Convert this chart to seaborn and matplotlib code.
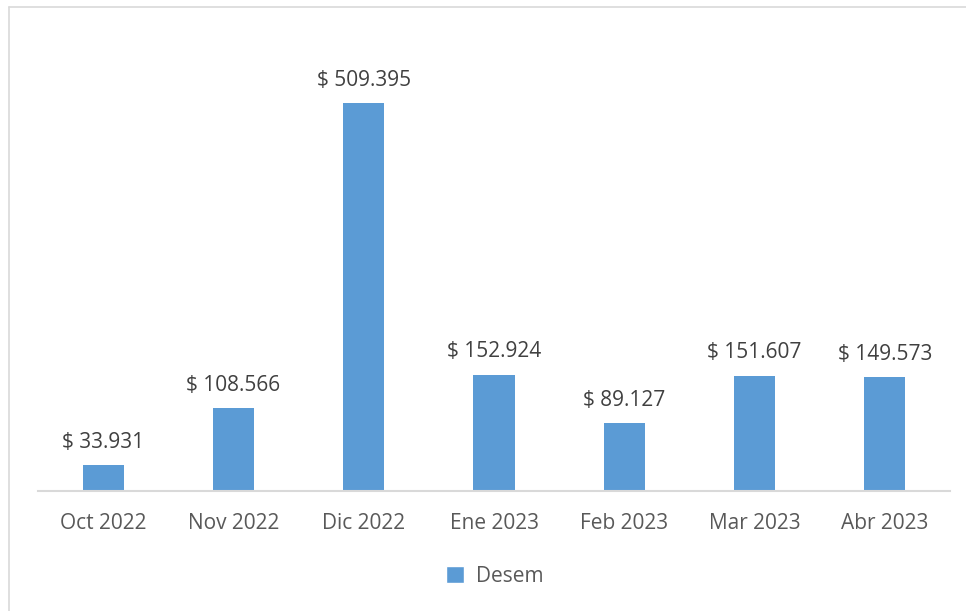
import matplotlib
matplotlib.use("Agg")
import matplotlib.pyplot as plt
import seaborn as sns
import pandas as pd
from matplotlib.patches import Rectangle
from matplotlib.lines import Line2D

months = ["Oct 2022", "Nov 2022", "Dic 2022", "Ene 2023", "Feb 2023", "Mar 2023", "Abr 2023"]
values = [33931, 108566, 509395, 152924, 89127, 151607, 149573]
labels = ["$ 33.931", "$ 108.566", "$ 509.395", "$ 152.924", "$ 89.127", "$ 151.607", "$ 149.573"]
series_name = "Desem"

sns.set_theme(style="white")
plt.rcParams["font.family"] = ["Open Sans", "DejaVu Sans"]

df = pd.DataFrame({"Mes": months, "Valor": values, "Serie": series_name})
color = "#5B9BD5"

fig = plt.figure(figsize=(9.66, 6.11), dpi=100)
ax = fig.add_axes([38/966, 120/611, 912/966, 457/611])
sns.barplot(data=df, x="Mes", y="Valor", hue="Serie", palette=[color], width=0.315,
            ax=ax, legend=False, saturation=1, linewidth=0)
ax.set_ylim(0, 600000)
ax.set_xlim(-0.5, len(months) - 0.5)
for s in ["top", "right", "left"]:
    ax.spines[s].set_visible(False)
ax.spines["bottom"].set_color("#D9D9D9")
ax.spines["bottom"].set_linewidth(1.5)
ax.set_yticks([])
ax.set_xlabel("")
ax.set_ylabel("")
ax.tick_params(axis="x", length=0, pad=16, labelsize=15, labelcolor="#595959")

for cont in ax.containers:
    ax.bar_label(cont, labels=labels, padding=9, fontsize=15, color="#404040")

# legend
handle = Rectangle((0, 0), 1, 1, facecolor=color)
fig.legend([handle], [series_name], loc="center", bbox_to_anchor=(495/966, 1 - 576/611),
           frameon=False, fontsize=15, handlelength=0.85, handleheight=0.85,
           handletextpad=0.6, labelcolor="#595959")

# outer border
fig.add_artist(Line2D([8.5/966, 8.5/966], [0, 1 - 6.5/611], color="#D9D9D9", lw=1.2,
                      transform=fig.transFigure))
fig.add_artist(Line2D([8.5/966, 1], [1 - 6.5/611, 1 - 6.5/611], color="#D9D9D9", lw=1.2,
                      transform=fig.transFigure))

fig.savefig("out.png", dpi=100)
